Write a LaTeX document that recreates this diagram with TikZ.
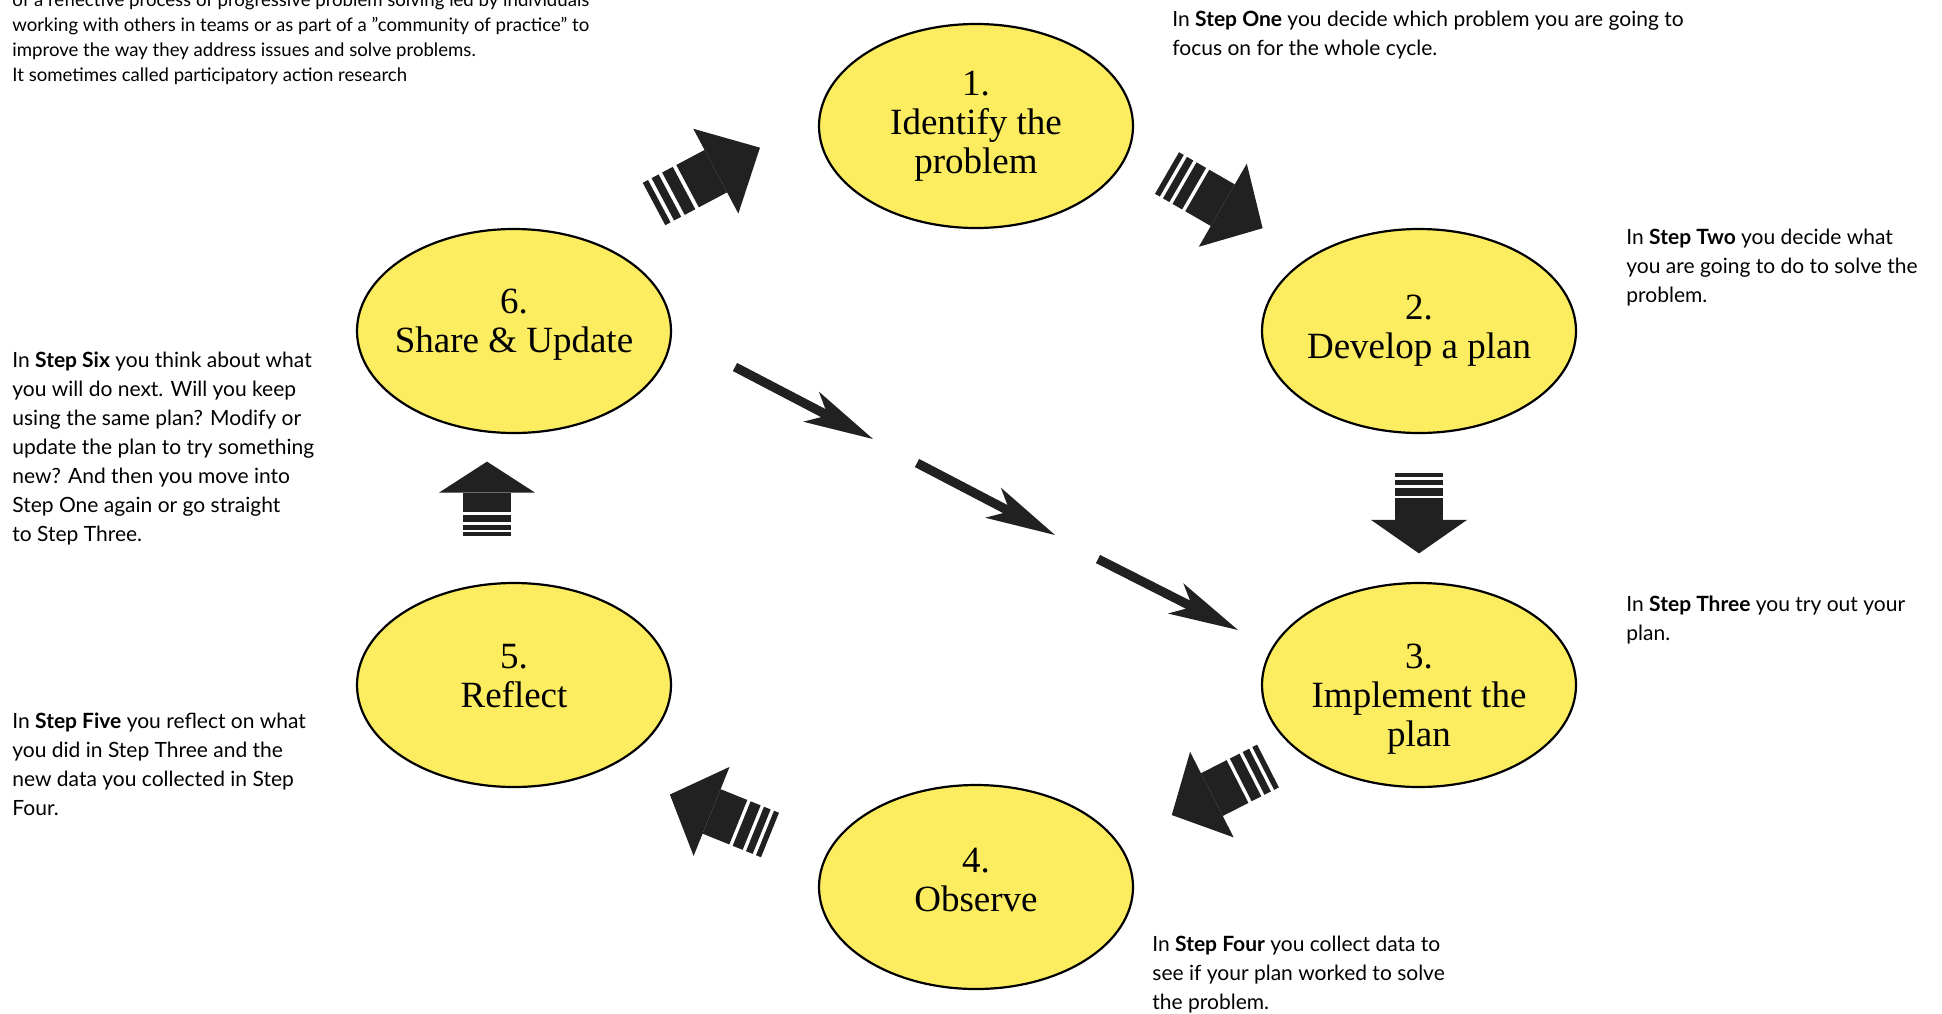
\documentclass[tikz,border=0pt]{standalone}
\usepackage{fontspec}
\newfontfamily\notefont{Lato}
\newfontfamily\stepfont{Liberation Serif}
\usetikzlibrary{arrows.meta, shapes.geometric}
\definecolor{stepyellow}{RGB}{252,236,96}
\definecolor{inkblack}{RGB}{33,33,33}

% striped block arrow, tail at the origin, pointing along +x
\tikzset{
  pics/stepArrow/.style={code={
    \fill[inkblack] (0,-24) rectangle (6,24);
    \fill[inkblack] (10,-24) rectangle (18,24);
    \fill[inkblack] (22,-24) rectangle (34,24);
    \fill[inkblack] (38,-24) rectangle (70,24);
    \fill[inkblack] (70,-48) -- (120,0) -- (70,48) -- cycle;
  }}
}

\begin{document}
\begin{tikzpicture}[
        x=0.5pt, y=-0.5pt,
        stepnode/.style={ellipse, draw=black, line width=1.1pt, fill=stepyellow, minimum width=157pt, minimum height=102pt, inner sep=0pt},
        steptext/.style={align=center, inner sep=0pt, font=\stepfont\fontsize{18.5}{19.5}\selectfont},
        note/.style={anchor=base west, align=left, inner sep=0pt, font=\notefont\fontsize{10.5}{14.5}\selectfont},
        smallnote/.style={note, font=\notefont\fontsize{9.3}{12.5}\selectfont},
        hop/.style={-{Stealth[length=35pt, width=17pt, inset=9.5pt, line width=0pt]}, line width=4.6pt, inkblack}
        ]
        \useasboundingbox (0,0) rectangle (1942,1013);

        % Steps of the cycle
        \node (identify) [stepnode, label={[steptext]center:1.\\Identify the\\problem}] at (976,126) {};
        \node (develop) [stepnode, label={[steptext]center:2.\\Develop a plan}] at (1419,331) {};
        \node (implement) [stepnode, label={[steptext, yshift=-7pt]center:3.\\Implement the\\plan}] at (1419,685) {};
        \node (observe) [stepnode, label={[steptext, yshift=3.5pt]center:4.\\Observe}] at (976,887) {};
        \node (reflect) [stepnode, label={[steptext, yshift=4.3pt]center:5.\\Reflect}] at (514,685) {};
        \node (share) [stepnode, label={[steptext, yshift=3pt]center:6.\\Share \& Update}] at (514,331) {};

        % Block arrows between the steps
        \pic[rotate=28] at (654,204) {stepArrow};
        \pic[rotate=-30, xscale=0.92] at (1167,173) {stepArrow};
        \pic[rotate=-90, xscale=0.67] at (1419,473) {stepArrow};
        \pic[rotate=207, xscale=0.9] at (1268,766) {stepArrow};
        \pic[rotate=158, xscale=0.9] at (770,835) {stepArrow};
        \pic[rotate=90, xscale=0.62] at (487,536) {stepArrow};

        % Shortcut from step 6 to step 3
        \coordinate (hop1a) at (735,367);
        \coordinate (hop1b) at (873,439);
        \coordinate (hop2a) at (917,463);
        \coordinate (hop2b) at (1055,535);
        \coordinate (hop3a) at (1098,559);
        \coordinate (hop3b) at (1238,630);
        \draw [hop] (hop1a) -- (hop1b);
        \draw [hop] (hop2a) -- (hop2b);
        \draw [hop] (hop3a) -- (hop3b);

        % Notes (anchored on the baseline of their last line)
        \node (intro) [smallnote] at (12,81.7) {of a reflective process of progressive problem solving led by individuals\\working with others in teams or as part of a ”community of practice” to\\improve the way they address issues and solve problems.\\It sometimes called participatory action research};
        \node (noteone) [note] at (1172,55) {In \textbf{Step One} you decide which problem you are going to\\focus on for the whole cycle.};
        \node (notetwo) [note] at (1626,302) {In \textbf{Step Two} you decide what\\you are going to do to solve the\\problem.};
        \node (notethree) [note] at (1626,640) {In \textbf{Step Three} you try out your\\plan.};
        \node (notefour) [note] at (1152,1009) {In \textbf{Step Four} you collect data to\\see if your plan worked to solve\\the problem.};
        \node (notefive) [note] at (12,815) {In \textbf{Step Five} you reflect on what\\you did in Step Three and the\\new data you collected in Step\\Four.};
        \node (notesix) [note] at (12,541) {In \textbf{Step Six} you think about what\\you will do next. Will you keep\\using the same plan? Modify or\\update the plan to try something\\new? And then you move into\\Step One again or go straight\\to Step Three.};

    \end{tikzpicture}
\end{document}
